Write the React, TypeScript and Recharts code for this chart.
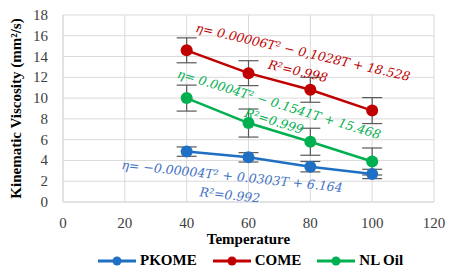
import React from 'react';
import {
  LineChart, Line, XAxis, YAxis, CartesianGrid, ErrorBar, Legend, ReferenceDot, Label,
} from 'recharts';

const temps = [40, 60, 80, 100];
const pkome = [4.85, 4.3, 3.4, 2.7];
const pkomeErr = [0.45, 0.45, 0.5, 0.45];
const come = [14.6, 12.4, 10.8, 8.8];
const comeErr = [1.2, 1.2, 1.2, 1.25];
const nlOil = [10.0, 7.6, 5.8, 3.9];
const nlOilErr = [1.25, 1.35, 1.3, 1.3];

const xTicks = [0, 20, 40, 60, 80, 100, 120];
const yTicks = [0, 2, 4, 6, 8, 10, 12, 14, 16, 18];

const seriesNames = ['PKOME', 'COME', 'NL Oil'];
const seriesColors = ['#1F6FC5', '#C00000', '#00B050'];

// trendline equations, placed at data coordinates
const noteTexts = [
  'η= 0.00006T² − 0,1028T + 18.528',
  'R²=0.998',
  'η= 0.0004T² − 0.1541T + 15.468',
  'R²=0.999',
  'η= −0.00004T² + 0.0303T + 6.164',
  'R²=0.992',
];
const noteX = [77.6, 76.0, 69.9, 68.3, 54.7, 54.0];
const noteY = [14.44, 12.61, 9.43, 7.8, 2.5, 0.67];
const noteAngle = [13, 13, 17, 17, 6, 6];
const noteColors = ['#C00000', '#C00000', '#00B050', '#00B050', '#4472C4', '#4472C4'];

const data = temps.map((t, i) => ({
  t,
  pkome: pkome[i],
  pkomeErr: pkomeErr[i],
  come: come[i],
  comeErr: comeErr[i],
  nlOil: nlOil[i],
  nlOilErr: nlOilErr[i],
}));

const serif = '"Liberation Serif", "Times New Roman", serif';

function AxisTick(props: any) {
  const { x, y, payload, textAnchor, vertical } = props;
  return (
    <text x={x} y={y} textAnchor={textAnchor} dominantBaseline={vertical ? 'central' : 'hanging'}
      fontFamily={serif} fontSize={15} fill="#404040">
      {payload.value}
    </text>
  );
}

function LegendRow() {
  return (
    <div style={{ display: 'flex', paddingLeft: 98, gap: 16, fontFamily: serif, fontWeight: 'bold', fontSize: 15 }}>
      {seriesNames.map((name, i) => (
        <div key={name} style={{ display: 'flex', alignItems: 'center', gap: 4 }}>
          <svg width={38} height={12}>
            <line x1={0} y1={6} x2={38} y2={6} stroke={seriesColors[i]} strokeWidth={3} />
            <circle cx={19} cy={6} r={4.5} fill={seriesColors[i]} />
          </svg>
          <span style={{ color: '#000' }}>{name}</span>
        </div>
      ))}
    </div>
  );
}

export default function App() {
  return (
    <div style={{ position: 'absolute', left: 0, top: 0, background: '#fff', fontFamily: serif }}>
      <LineChart width={454} height={276} data={data} margin={{ top: 15, right: 20, left: 0, bottom: 0 }}>
        <CartesianGrid stroke="#d9d9d9" />
        <XAxis
          type="number"
          dataKey="t"
          domain={[0, 120]}
          ticks={xTicks}
          interval={0}
          tickLine={false}
          axisLine={{ stroke: '#d9d9d9' }}
          height={50}
          tick={<AxisTick />}
          tickMargin={10}
        >
          <Label value="Temperature" position="insideBottom" offset={8}
            style={{ fontFamily: serif, fontWeight: 'bold', fontSize: 15, fill: '#000' }} />
        </XAxis>
        <YAxis
          type="number"
          domain={[0, 18]}
          ticks={yTicks}
          interval={0}
          tickLine={false}
          axisLine={{ stroke: '#d9d9d9' }}
          width={63}
          tick={<AxisTick vertical />}
          tickMargin={9}
        >
          <Label value="Kinematic Viscosity (mm²/s)" angle={-90} position="insideLeft" offset={16}
            style={{ fontFamily: serif, fontWeight: 'bold', fontSize: 15, fill: '#000', textAnchor: 'middle' }} />
        </YAxis>
        <Legend verticalAlign="bottom" height={24} content={<LegendRow />} />
        <Line dataKey="pkome" name={seriesNames[0]} stroke={seriesColors[0]} strokeWidth={2.5}
          dot={{ r: 6, fill: seriesColors[0], stroke: seriesColors[0], strokeWidth: 0 }} isAnimationActive={false}>
          <ErrorBar dataKey="pkomeErr" direction="y" width={10} stroke="#595959" strokeWidth={1.2} />
        </Line>
        <Line dataKey="come" name={seriesNames[1]} stroke={seriesColors[1]} strokeWidth={2.5}
          dot={{ r: 6, fill: seriesColors[1], stroke: seriesColors[1], strokeWidth: 0 }} isAnimationActive={false}>
          <ErrorBar dataKey="comeErr" direction="y" width={10} stroke="#595959" strokeWidth={1.2} />
        </Line>
        <Line dataKey="nlOil" name={seriesNames[2]} stroke={seriesColors[2]} strokeWidth={2.5}
          dot={{ r: 6, fill: seriesColors[2], stroke: seriesColors[2], strokeWidth: 0 }} isAnimationActive={false}>
          <ErrorBar dataKey="nlOilErr" direction="y" width={10} stroke="#595959" strokeWidth={1.2} />
        </Line>
        {noteTexts.map((txt, i) => (
          <ReferenceDot
            key={i}
            x={noteX[i]}
            y={noteY[i]}
            r={0}
            fill="none"
            stroke="none"
            label={(p: any) => {
              const vb = p.viewBox || {};
              const cx = (vb.x || 0) + (vb.width || 0) / 2;
              const cy = (vb.y || 0) + (vb.height || 0) / 2;
              return (
                <text x={cx} y={cy} textAnchor="middle" dominantBaseline="central"
                  transform={`rotate(${noteAngle[i]} ${cx} ${cy})`}
                  fill={noteColors[i]} fontFamily='"DejaVu Serif", serif' fontStyle="italic" fontSize={12.5}>
                  {txt}
                </text>
              );
            }}
          />
        ))}
      </LineChart>
    </div>
  );
}
